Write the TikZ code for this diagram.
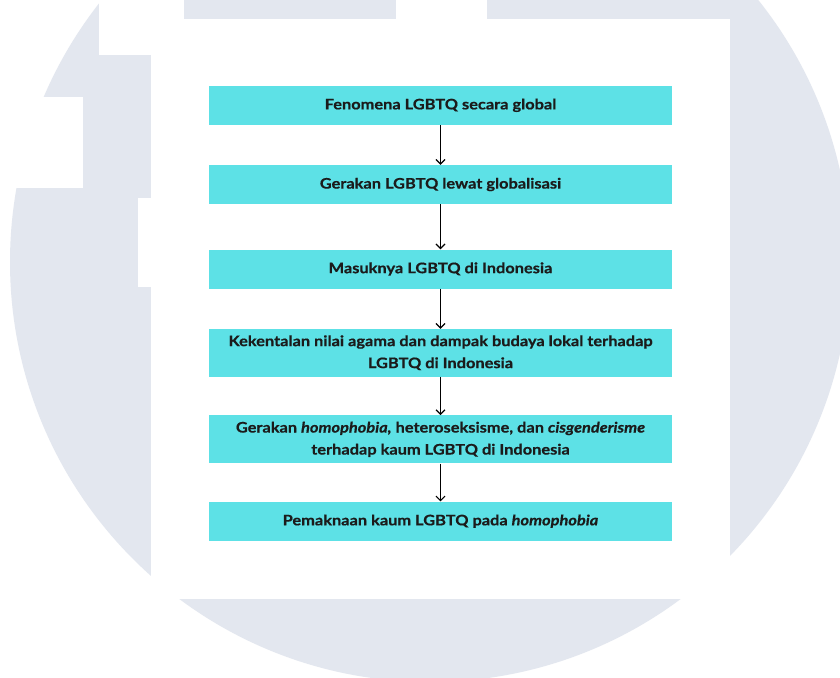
\documentclass[tikz,border=0pt]{standalone}
\usepackage{fontspec}
\setmainfont{Lato}[FakeStretch=1.13,BoldFeatures={FakeBold=0.6},BoldItalicFeatures={FakeBold=0.6}]
\usetikzlibrary{arrows.meta}
\definecolor{wmgray}{HTML}{E3E7EF}
\definecolor{boxcyan}{HTML}{5DE1E6}
\definecolor{txt}{HTML}{1B1B1B}
\tikzset{
  flowbox/.style={rectangle, fill=boxcyan, draw=none, minimum width=463pt, inner sep=0pt,
    align=center, text=txt, font=\bfseries\fontsize{14.5}{22}\selectfont},
  arr/.style={draw=black, line width=1.5pt, -{Straight Barb[length=4.5pt,width=9pt,line width=1.2pt]}}
}
\begin{document}
\begin{tikzpicture}[x=1pt,y=-1pt]
\useasboundingbox (0,0) rectangle (840,677);
\fill[white] (0,0) rectangle (840,677);
\begin{scope}
  \clip (0,0) rectangle (840,677);
  \fill[wmgray] (430,262) circle[radius=420];
  % white shapes of the watermark
  \fill[white] (99,-2) rectangle (151,55);
  \fill[white] (151,-2) rectangle (184,19);
  \fill[white] (396,-2) rectangle (487,19);
  \fill[white] (-2,97) rectangle (83,188);
  \fill[white] (138,198) rectangle (151,287);
  \fill[white] (151,19) rectangle (730,599);
\end{scope}
\node[flowbox, minimum height=39.5pt] (b1) at (440.5,105.3) {Fenomena LGBTQ secara global};
\node[flowbox, minimum height=39pt] (b2) at (440.5,184.5) {Gerakan LGBTQ lewat globalisasi};
\node[flowbox, minimum height=39pt] (b3) at (440.5,269) {Masuknya LGBTQ di Indonesia};
\node[flowbox, minimum height=47.5pt] (b4) at (440.5,352.75) {Kekentalan nilai agama dan dampak budaya lokal terhadap\\LGBTQ di Indonesia};
\node[flowbox, minimum height=48pt] (b5) at (440.5,439.35) {Gerakan \textit{homophobia,} heteroseksisme, dan \textit{cisgenderisme}\\terhadap kaum LGBTQ di Indonesia};
\node[flowbox, minimum height=39pt] (b6) at (440.5,521.15) {Pemaknaan kaum LGBTQ pada \textit{homophobia}};
\draw[arr] (b1.south) -- (b2.north);
\draw[arr] (b2.south) -- (b3.north);
\draw[arr] (b3.south) -- (b4.north);
\draw[arr] (b4.south) -- (b5.north);
\draw[arr] (b5.south) -- (b6.north);
\end{tikzpicture}
\end{document}
